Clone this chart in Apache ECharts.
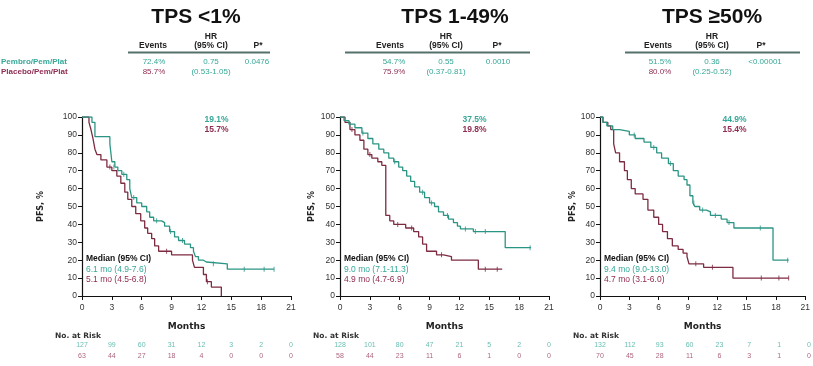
<!DOCTYPE html>
<html>
<head>
<meta charset="utf-8">
<script src="https://cdn.jsdelivr.net/npm/echarts@6/dist/echarts.min.js"></script>
<style>
html,body{margin:0;padding:0;background:#fff;}
#chart{width:813px;height:366px;}
</style>
</head>
<body>
<div id="chart"></div>
<script>
// ---- data ----
var months = [0, 3, 6, 9, 12, 15, 18, 21];
var panelTitles = ['TPS <1%', 'TPS 1-49%', 'TPS \u226550%'];
var armNames = ['Pembro/Pem/Plat', 'Placebo/Pem/Plat'];
var eventsPembro = ['72.4%', '54.7%', '51.5%'];
var eventsPlacebo = ['85.7%', '75.9%', '80.0%'];
var hrValues = ['0.75', '0.55', '0.36'];
var hrCI = ['(0.53-1.05)', '(0.37-0.81)', '(0.25-0.52)'];
var pValues = ['0.0476', '0.0010', '<0.00001'];
var rate12Pembro = ['19.1%', '37.5%', '44.9%'];
var rate12Placebo = ['15.7%', '19.8%', '15.4%'];
var medianPembro = ['6.1 mo (4.9-7.6)', '9.0 mo (7.1-11.3)', '9.4 mo (9.0-13.0)'];
var medianPlacebo = ['5.1 mo (4.5-6.8)', '4.9 mo (4.7-6.9)', '4.7 mo (3.1-6.0)'];

// KM steps [month, PFS %]
var pembroTps1 = [[0,100],[1.0,97],[1.3,89],[2.8,85],[3.0,75],[3.3,72],[3.6,70],[4.0,68],[4.5,65],[4.8,60],[5.0,55],[5.5,52],[6.0,50],[6.5,47],[6.8,44],[7.2,42],[8.0,41],[8.3,39],[8.8,36],[9.3,33],[9.7,31],[10.3,29],[10.9,27],[11.2,25],[11.4,22],[11.7,20],[12.2,19],[12.5,18],[14.6,15],[19.3,15]];
var placeboTps1 = [[0,100],[0.7,97],[0.9,93],[1.1,88],[1.3,82],[1.5,79],[1.9,76],[2.5,72],[3.0,70],[3.5,67],[3.9,63],[4.3,58],[4.6,54],[5.0,50],[5.4,46],[5.9,42],[6.3,38],[6.6,35],[7.0,32],[7.3,28],[7.7,25],[9.0,23],[11.1,20],[11.3,16],[12.2,12],[12.5,8],[13.0,5],[14.0,0]];
var pembroTps2 = [[0,100],[0.4,98],[0.9,96],[1.5,94],[2.2,91],[2.8,88],[3.3,85],[3.9,82],[4.4,80],[4.9,77],[5.4,75],[5.9,72],[6.3,70],[6.7,67],[7.1,64],[7.5,61],[8.0,58],[8.5,55],[9.0,52],[9.5,50],[9.9,47],[10.4,45],[10.9,43],[11.4,41],[11.8,39],[12.1,37.5],[13.4,36],[16.6,27],[19.2,27]];
var placeboTps2 = [[0,100],[0.5,97],[1.0,93],[1.5,90],[2.0,87],[2.4,82],[2.8,79],[3.2,77],[3.8,75],[4.2,73],[4.6,45],[5.0,42],[5.4,40],[6.6,38],[7.4,36],[7.9,33],[8.3,29],[8.7,25],[9.7,23],[10.4,22],[11.2,20],[13.9,15],[16.3,15]];
var pembroTps3 = [[0,100],[0.3,97],[0.7,95],[1.3,93],[2.0,92],[3.0,90],[3.6,88],[4.5,86],[5.2,83],[5.8,80],[6.3,77],[7.0,74],[7.5,70],[8.0,67],[8.6,65],[8.9,62],[9.2,56],[9.5,52],[9.7,50],[10.2,48],[10.9,47],[11.3,45],[12.4,43],[13.0,41],[13.7,38],[17.7,20],[19.3,20]];
var placeboTps3 = [[0,100],[0.3,97],[0.8,95],[1.1,93],[1.4,85],[1.6,80],[2.0,75],[2.5,70],[2.8,65],[3.2,60],[3.6,57],[4.4,54],[4.9,48],[5.5,44],[6.0,40],[6.4,36],[6.9,32],[7.4,28],[8.0,26],[8.5,24],[8.9,22],[9.1,18],[10.6,16],[13.6,10],[19.3,10]];

// censored observations [month, PFS %]
var censorPembro1 = [[3.2,72],[4.2,68],[5.2,55],[7.5,42],[8.9,36],[10.1,31],[13.2,18],[16.3,15],[18.3,15],[19.3,15]];
var censorPlacebo1 = [[2.8,72],[8.5,25],[12.6,8]];
var censorPembro2 = [[1.0,96],[2.3,91],[5.5,75],[8.3,58],[9.2,52],[10.8,45],[12.6,37.5],[13.6,36],[14.6,36],[19.1,27]];
var censorPlacebo2 = [[1.2,93],[3.0,79],[5.8,40],[7.2,38],[10.2,23],[14.6,15],[15.8,15]];
var censorPembro3 = [[3.5,90],[5.5,83],[7.2,74],[9.6,52],[10.5,48],[11.8,45],[13.2,41],[16.4,38],[19.2,20]];
var censorPlacebo3 = [[9.8,18],[11.5,16],[16.5,10],[18.3,10],[19.3,10]];

// number at risk at each month tick
var riskPembro = [[127,99,60,31,12,3,2,0],[128,101,80,47,21,5,2,0],[132,112,93,60,23,7,1,0]];
var riskPlacebo = [[63,44,27,18,4,0,0,0],[58,44,23,11,6,1,0,0],[70,45,28,11,6,3,1,0]];

var pembroCurves = [pembroTps1, pembroTps2, pembroTps3];
var placeboCurves = [placeboTps1, placeboTps2, placeboTps3];
var censorPembro = [censorPembro1, censorPembro2, censorPembro3];
var censorPlacebo = [censorPlacebo1, censorPlacebo2, censorPlacebo3];

// ---- style / layout ----
var TEAL = '#2b9585';
var TEAL_TXT = '#36a897';
var MAROON = '#7d2b40';
var MAROON_TXT = '#8f2d52';
var SANS = '"Liberation Sans", Arial, sans-serif';
var WIDE = '"DejaVu Sans", sans-serif';

var gridLeft = [82, 340, 600];
var gridW = 209;
var plotTop = 117, plotH = 179;
var nameGaps = [37, 24, 20];

// table columns [events header, hr header, p header, events val, hr val, ci val, p val, line x1, line x2, title x]
var tableCols = [
  [153, 211, 258, 154, 211, 211, 257, 128, 270, 196],
  [390, 446, 497, 394, 446, 446, 498, 345, 530, 455],
  [658, 712, 761, 660, 712, 712, 765, 625, 800, 712]
];

var chart = echarts.init(document.getElementById('chart'));

var grids = [], xAxes = [], yAxes = [], series = [], graphics = [];

function txt(x, y, s, size, color, weight, family, align) {
  graphics.push({
    type: 'text', x: x, y: y, silent: true,
    style: {
      text: s, fill: color, fontSize: size, fontWeight: weight || 'normal',
      fontFamily: family || SANS, align: align || 'center', verticalAlign: 'middle'
    }
  });
}

for (var p = 0; p < 3; p++) {
  var L = gridLeft[p];
  var gi = 2 * p;      // KM plot grid / axes
  var ri = 2 * p + 1;  // number-at-risk grid / axes
  grids.push({ left: L, top: plotTop, width: gridW, height: plotH });
  grids.push({ left: L, top: 340, width: gridW, height: 22 });

  xAxes.push({
    gridIndex: gi, type: 'value', min: 0, max: 21, interval: 3,
    name: 'Months', nameLocation: 'middle', nameGap: 26,
    nameTextStyle: { fontSize: 9, fontWeight: 'bold', color: '#222', fontFamily: WIDE },
    axisLine: { show: true, lineStyle: { color: '#111', width: 1.2 } },
    axisTick: { show: true, length: 4, lineStyle: { color: '#111' } },
    axisLabel: { fontSize: 8.5, color: '#333', margin: 7, fontFamily: SANS },
    splitLine: { show: false }
  });
  xAxes.push({ gridIndex: ri, type: 'value', min: 0, max: 21, show: false });

  yAxes.push({
    gridIndex: gi, type: 'value', min: 0, max: 100, interval: 10,
    name: 'PFS, %', nameLocation: 'middle', nameGap: nameGaps[p],
    nameTextStyle: { fontSize: 8, fontWeight: 'bold', color: '#222', fontFamily: WIDE },
    axisLine: { show: true, lineStyle: { color: '#111', width: 1.2 } },
    axisTick: { show: true, length: 4, lineStyle: { color: '#111' } },
    axisLabel: { fontSize: 8.5, color: '#333', margin: 5, fontFamily: SANS },
    splitLine: { show: false }
  });
  yAxes.push({ gridIndex: ri, type: 'category', data: armNames, inverse: true, show: false });

  series.push({
    type: 'line', xAxisIndex: gi, yAxisIndex: gi, step: 'end', symbol: 'none',
    data: placeboCurves[p], lineStyle: { color: MAROON, width: 1.3 }, z: 3,
    markLine: {
      silent: true, symbol: 'none', label: { show: false },
      lineStyle: { color: '#777', width: 1, type: 'solid' },
      data: [[{ coord: [12, 0] }, { coord: [12, 106] }]]
    }
  });
  series.push({
    type: 'line', xAxisIndex: gi, yAxisIndex: gi, step: 'end', symbol: 'none',
    data: pembroCurves[p], lineStyle: { color: TEAL, width: 1.3 }, z: 4
  });
  series.push({
    type: 'scatter', xAxisIndex: gi, yAxisIndex: gi, symbol: 'rect', symbolSize: [1, 5],
    data: censorPlacebo[p], itemStyle: { color: MAROON }, z: 3
  });
  series.push({
    type: 'scatter', xAxisIndex: gi, yAxisIndex: gi, symbol: 'rect', symbolSize: [1, 5],
    data: censorPembro[p], itemStyle: { color: TEAL }, z: 4
  });

  var riskRows = [riskPembro[p], riskPlacebo[p]];
  var riskCols = [TEAL_TXT, MAROON_TXT];
  for (var r = 0; r < 2; r++) {
    series.push({
      type: 'scatter', xAxisIndex: ri, yAxisIndex: ri, symbolSize: 0,
      data: months.map(function (m, i) { return [m, r, riskRows[r][i]]; }),
      label: {
        show: true, position: 'inside', fontSize: 7, color: riskCols[r], opacity: 0.75,
        fontFamily: SANS, formatter: function (d) { return String(d.value[2]); }
      }
    });
  }

  // header table and annotations
  var c = tableCols[p];
  txt(c[9], 17.5, panelTitles[p], 21, '#111', 'bold', SANS);
  txt(c[1], 37, 'HR', 8.5, '#222', 'bold', SANS);
  txt(c[0], 46, 'Events', 8.5, '#222', 'bold', SANS);
  txt(c[1], 46, '(95% CI)', 8.5, '#222', 'bold', SANS);
  txt(c[2], 46, 'P*', 8.5, '#222', 'bold', SANS);
  graphics.push({
    type: 'line', silent: true,
    shape: { x1: c[7], y1: 52.5, x2: c[8], y2: 52.5 },
    style: { stroke: '#55706d', lineWidth: 2 }
  });
  txt(c[3], 61.5, eventsPembro[p], 8, TEAL_TXT, 'normal', SANS);
  txt(c[4], 61.5, hrValues[p], 8, TEAL_TXT, 'normal', SANS);
  txt(c[6], 61.5, pValues[p], 8, TEAL_TXT, 'normal', SANS);
  txt(c[3], 72, eventsPlacebo[p], 8, MAROON_TXT, 'normal', SANS);
  txt(c[5], 72, hrCI[p], 8, TEAL_TXT, 'normal', SANS);

  var x12 = L + gridW * 12 / 21 + 3;
  txt(x12, 119.5, rate12Pembro[p], 8.5, TEAL_TXT, 'bold', SANS, 'left');
  txt(x12, 129.5, rate12Placebo[p], 8.5, MAROON_TXT, 'bold', SANS, 'left');

  txt(L + 4, 259, 'Median (95% CI)', 8.5, '#111', 'bold', SANS, 'left');
  txt(L + 4, 269.5, medianPembro[p], 8.5, TEAL_TXT, 'normal', SANS, 'left');
  txt(L + 4, 280, medianPlacebo[p], 8.5, MAROON_TXT, 'normal', SANS, 'left');

  txt(L - 27, 336, 'No. at Risk', 7.5, '#333', 'bold', WIDE, 'left');
}

txt(1, 61.5, armNames[0], 8, TEAL_TXT, 'bold', SANS, 'left');
txt(1, 72, armNames[1], 8, MAROON_TXT, 'bold', SANS, 'left');

chart.setOption({
  animation: false,
  backgroundColor: '#fff',
  grid: grids,
  xAxis: xAxes,
  yAxis: yAxes,
  series: series,
  graphic: graphics
});
</script>
</body>
</html>
